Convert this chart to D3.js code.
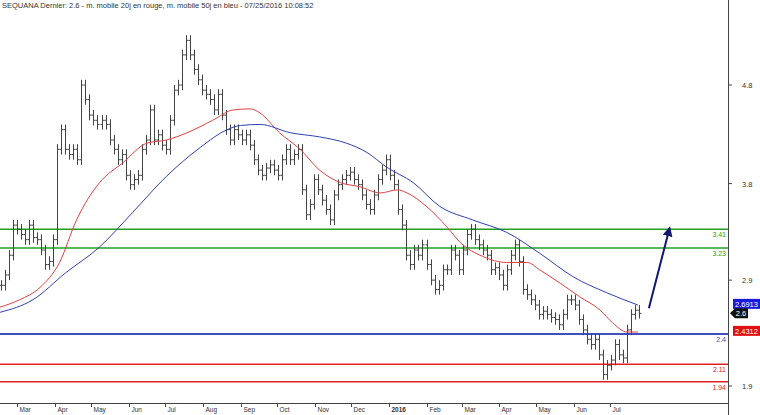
<!DOCTYPE html>
<html><head><meta charset="utf-8">
<script src="https://cdn.jsdelivr.net/npm/d3@7"></script>
<style>body{margin:0;background:#fff}svg{display:block;font-family:Arial,"Liberation Sans",sans-serif}</style>
</head><body><svg id="c" width="760" height="415"></svg>
<script>
const title = "SEQUANA Dernier: 2.6 - m. mobile 20j en rouge, m. mobile 50j en bleu - 07/25/2016 10:08:52";
const startDate = "2015-02-16", endDate = "2016-07-25";
const closes = [2.87,2.97,3.16,3.45,3.41,3.36,3.31,3.45,3.33,3.31,3.21,3.07,3.10,3.31,
4.18,4.37,4.18,4.13,4.18,4.08,4.80,4.66,4.51,4.46,4.42,4.46,4.42,4.27,4.18,4.08,4.13,3.93,3.84,3.89,3.93,4.18,4.27,4.56,4.27,4.32,4.22,4.18,4.46,4.75,4.80,5.09,5.23,5.09,4.95,4.85,4.75,4.71,4.66,4.56,4.71,4.51,4.37,4.27,4.37,4.32,4.27,4.32,4.22,4.08,3.98,3.93,4.00,4.03,3.98,3.93,4.08,4.18,4.08,4.13,4.18,3.79,3.55,3.65,3.89,3.79,3.69,3.60,3.50,3.74,3.84,3.89,3.93,3.96,3.89,3.84,3.74,3.65,3.60,3.74,3.89,3.98,4.08,3.93,3.84,3.60,3.45,3.16,3.07,3.21,3.16,3.26,3.07,2.92,2.83,2.87,
3.02,3.02,3.21,3.16,3.02,3.21,3.36,3.41,3.31,3.26,3.21,3.16,3.02,3.04,2.97,2.87,3.02,3.16,3.26,3.10,2.83,2.78,2.73,2.68,2.59,2.62,2.59,2.56,2.54,2.49,2.59,2.73,2.73,2.68,2.54,2.44,2.35,2.30,2.35,2.20,2.01,2.10,2.15,2.30,2.20,2.17,2.44,2.59,2.63,2.60];
const ma20 = [["2015-02-15",2.66],["2015-03-03",2.73],["2015-03-20",2.85],["2015-04-05",3.09],["2015-04-19",3.50],["2015-05-08",3.86],["2015-05-27",4.05],["2015-06-16",4.24],["2015-07-02",4.27],["2015-07-19",4.34],["2015-08-09",4.46],["2015-08-26",4.56],["2015-09-09",4.57],["2015-09-17",4.53],["2015-10-03",4.34],["2015-10-20",4.18],["2015-11-05",3.98],["2015-11-22",3.86],["2015-12-08",3.82],["2015-12-25",3.76],["2016-01-08",3.79],["2016-01-16",3.76],["2016-02-01",3.63],["2016-02-18",3.43],["2016-02-29",3.28],["2016-03-18",3.15],["2016-04-07",3.09],["2016-04-24",3.09],["2016-05-04",3.02],["2016-05-21",2.89],["2016-06-06",2.76],["2016-06-23",2.63],["2016-07-03",2.51],["2016-07-15",2.42],["2016-07-24",2.42]];
const ma50 = [["2015-02-15",2.61],["2015-03-14",2.73],["2015-04-10",2.99],["2015-05-08",3.24],["2015-06-04",3.57],["2015-07-02",3.92],["2015-07-30",4.20],["2015-08-21",4.37],["2015-09-01",4.41],["2015-09-17",4.42],["2015-10-12",4.34],["2015-11-05",4.30],["2015-11-27",4.24],["2015-12-14",4.15],["2015-12-30",4.01],["2016-01-21",3.86],["2016-02-12",3.63],["2016-03-10",3.50],["2016-04-07",3.38],["2016-05-04",3.18],["2016-06-01",2.95],["2016-06-28",2.80],["2016-07-24",2.68]];
const levels = [{v:3.41,c:"#22a022",w:1.5},{v:3.23,c:"#22a022",w:1.5},{v:2.4,c:"#4050c0",w:2},{v:2.11,c:"#e02020",w:1.5},{v:1.94,c:"#e02020",w:1.5}];
const yTicks = [4.8,3.8,2.9,1.9];
const yTickPos = {4.8:4.8,3.8:3.85,2.9:2.92,1.9:1.9};
const months = [["2015-03-01","Mar"],["2015-04-01","Apr"],["2015-05-01","May"],["2015-06-01","Jun"],["2015-07-01","Jul"],["2015-08-01","Aug"],["2015-09-01","Sep"],["2015-10-01","Oct"],["2015-11-01","Nov"],["2015-12-01","Dec"],["2016-01-01","2016"],["2016-02-01","Feb"],["2016-03-01","Mar"],["2016-04-01","Apr"],["2016-05-01","May"],["2016-06-01","Jun"],["2016-07-01","Jul"]];
const tags = [{v:2.6913,t:"2.6913",c:"#1a1adc"},{v:2.6,t:"2.6",c:"#111"},{v:2.4312,t:"2.4312",c:"#e01010"}];

const P = d3.timeParse("%Y-%m-%d");
const svg = d3.select("#c");
const W = 728, H = 403;
const x = d3.scaleTime().domain([P("2015-03-01"),P("2016-07-01")]).range([17,610]);
const y = d3.scaleLinear().domain([1.9,4.8]).range([386,85]);

svg.append("text").attr("x",2).attr("y",8).attr("font-size",7.5).attr("fill","#333").text(title);

levels.forEach(l=>{
  svg.append("line").attr("x1",0).attr("x2",W).attr("y1",y(l.v)).attr("y2",y(l.v)).attr("stroke",l.c).attr("stroke-width",l.w);
  svg.append("text").attr("x",W-2).attr("y",y(l.v)+8).attr("text-anchor","end").attr("font-size",7).attr("fill",l.c).text(l.v);
});

const t0 = P(startDate), t1 = P(endDate);
const dt = d3.scaleLinear().domain([0,closes.length-1]).range([+t0,+t1]);
const g = svg.append("g").attr("stroke","#444").attr("stroke-width",1);
closes.forEach((c,i)=>{
  const p = i>0?closes[i-1]:c;
  const hi = Math.max(p,c)+0.05, lo = Math.min(p,c)-0.05;
  const xx = Math.round(x(new Date(dt(i))))+0.5;
  g.append("line").attr("x1",xx).attr("x2",xx).attr("y1",y(hi)).attr("y2",y(lo));
  g.append("line").attr("x1",xx).attr("x2",xx+2).attr("y1",y(c)).attr("y2",y(c));
  g.append("line").attr("x1",xx-2).attr("x2",xx).attr("y1",y(p)).attr("y2",y(p));
});

const ln = d3.line().x(d=>x(P(d[0]))).y(d=>y(d[1])).curve(d3.curveMonotoneX);
svg.append("path").attr("d",ln(ma20)).attr("fill","none").attr("stroke","#e04040").attr("stroke-width",1);
svg.append("path").attr("d",ln(ma50)).attr("fill","none").attr("stroke","#3040b0").attr("stroke-width",1);

svg.append("defs").append("marker").attr("id","ah").attr("viewBox","0 0 10 10").attr("refX",8).attr("refY",5)
 .attr("markerWidth",5).attr("markerHeight",5).attr("orient","auto")
 .append("path").attr("d","M0,0L10,5L0,10z").attr("fill","#101a70");
svg.append("line").attr("x1",x(P("2016-08-02"))).attr("y1",y(2.65)).attr("x2",x(P("2016-08-19"))).attr("y2",y(3.42))
 .attr("stroke","#101a70").attr("stroke-width",2).attr("marker-end","url(#ah)");

svg.append("line").attr("x1",W+0.5).attr("x2",W+0.5).attr("y1",0).attr("y2",415).attr("stroke","#444");
svg.append("line").attr("x1",0).attr("x2",W).attr("y1",H+0.5).attr("y2",H+0.5).attr("stroke","#444");

yTicks.forEach(t=>{
  const yy = y(yTickPos[t]);
  svg.append("line").attr("x1",W).attr("x2",W+4).attr("y1",yy).attr("y2",yy).attr("stroke","#444");
  svg.append("text").attr("x",742).attr("y",yy+3).attr("font-size",7.5).attr("fill","#333").text(t);
});
tags.forEach(tg=>{
  const yy = y(tg.v);
  const gg = svg.append("g");
  if(tg.t==="2.6"){
    gg.append("path").attr("d",`M${W+2},${yy}L${W+7},${yy-5}H${W+20}V${yy+5}H${W+7}Z`).attr("fill",tg.c);
    gg.append("text").attr("x",W+13).attr("y",yy+3).attr("text-anchor","middle").attr("font-size",7.5).attr("fill","#fff").text(tg.t);
  } else {
    gg.append("rect").attr("x",W+5).attr("y",yy-5).attr("width",27).attr("height",10).attr("fill",tg.c);
    gg.append("text").attr("x",W+18.5).attr("y",yy+3).attr("text-anchor","middle").attr("font-size",7.5).attr("fill","#fff").text(tg.t);
  }
});

months.forEach(m=>{
  const xx = Math.round(x(P(m[0])))+0.5;
  svg.append("line").attr("x1",xx).attr("x2",xx).attr("y1",H).attr("y2",H+4).attr("stroke","#444");
  svg.append("text").attr("x",xx+2).attr("y",412).attr("font-size",6.5).attr("fill","#333")
   .attr("font-weight",m[1]==="2016"?"bold":"normal").text(m[1]);
});
</script></body></html>
